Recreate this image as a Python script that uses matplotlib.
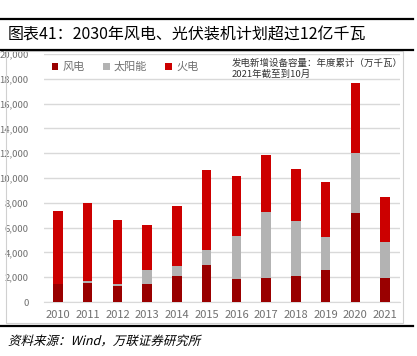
import matplotlib
matplotlib.use("Agg")
import matplotlib.pyplot as plt
import numpy as np
from matplotlib.patches import Rectangle, PathPatch
from matplotlib.lines import Line2D
from matplotlib.ticker import FuncFormatter
from matplotlib.textpath import TextPath
from matplotlib.font_manager import FontProperties
from matplotlib.transforms import Affine2D

plt.rcParams['font.family'] = ['Noto Sans CJK SC', 'DejaVu Sans']

years = ['2010', '2011', '2012', '2013', '2014', '2015', '2016',
         '2017', '2018', '2019', '2020', '2021']
wind = [1450, 1530, 1300, 1450, 2100, 2980, 1870, 1950, 2100, 2580, 7170, 1950]
solar = [20, 190, 150, 1130, 800, 1210, 3450, 5300, 4430, 2660, 4840, 2890]
thermal = [5830, 6280, 5160, 3620, 4840, 6450, 4840, 4600, 4190, 4430, 5640, 3620]

c_wind = '#990000'
c_solar = '#b3b3b3'
c_thermal = '#cc0000'
grey_txt = '#707070'

W, H = 417, 356
fig = plt.figure(figsize=(W / 100, H / 100), dpi=100)

# outer frame of chart area
fig.patches.append(Rectangle((6 / W, 1 - 323 / H), 397 / W, 272 / H,
                             transform=fig.transFigure, fill=False,
                             edgecolor='#d0d0d0', lw=0.8))

ax = fig.add_axes([44 / W, 1 - 302 / H, 356 / W, 248 / H])
x = np.arange(len(years))
bw = 0.32
wind_a = np.array(wind)
solar_a = np.array(solar)
ax.bar(x, wind, bw, color=c_wind, label='风电', zorder=3)
ax.bar(x, solar, bw, bottom=wind_a, color=c_solar, label='太阳能', zorder=3)
ax.bar(x, thermal, bw, bottom=wind_a + solar_a, color=c_thermal, label='火电', zorder=3)

ax.set_xlim(-0.47, 11.5)
ax.set_ylim(0, 20000)
ax.set_yticks(np.arange(0, 20001, 2000))
ax.yaxis.set_major_formatter(FuncFormatter(lambda v, p: '{:,.0f}'.format(v)))
ax.set_xticks(x)
ax.set_xticklabels(years)
ax.grid(axis='y', color='#d9d9d9', lw=1, zorder=0)
for s in ['top', 'right', 'left']:
    ax.spines[s].set_visible(False)
ax.spines['bottom'].set_color('#d9d9d9')
ax.tick_params(axis='both', length=0, colors=grey_txt)
ax.tick_params(axis='y', labelsize=6.8, pad=11)
ax.tick_params(axis='x', labelsize=8, pad=6)

leg = ax.legend(loc='upper left', bbox_to_anchor=(0.0, 1.0), ncol=3, frameon=False,
                fontsize=8, handlelength=0.6, handleheight=0.6, handletextpad=0.4,
                columnspacing=1.6, borderaxespad=0.3)
for t in leg.get_texts():
    t.set_color(grey_txt)

fig.text(232 / W, 1 - 63 / H, '发电新增设备容量：年度累计（万千瓦）', fontsize=6.8,
         color='#333333', va='center', ha='left')
fig.text(232 / W, 1 - 74 / H, '2021年截至到10月', fontsize=6.8,
         color='#333333', va='center', ha='left')

# title and rules
fig.text(8 / W, 1 - 35 / H, '图表41：2030年风电、光伏装机计划超过12亿千瓦', fontsize=11.5,
         color='black', va='center', ha='left')
for yy in [19, 50, 326]:
    fig.lines.append(Line2D([0, 413 / W], [1 - yy / H, 1 - yy / H],
                            transform=fig.transFigure, color='black', lw=1.6))

# slanted source note (the CJK font has no italic face)
src = TextPath((0, 0), '资料来源：Wind，万联证券研究所', size=9,
               prop=FontProperties(family='Noto Sans CJK SC'))
tr = Affine2D().skew_deg(14, 0).scale(100 / 72).translate(8, H - 345)
fig.patches.append(PathPatch(src, transform=tr, color='black', lw=0))

fig.savefig('out.png', dpi=100)
